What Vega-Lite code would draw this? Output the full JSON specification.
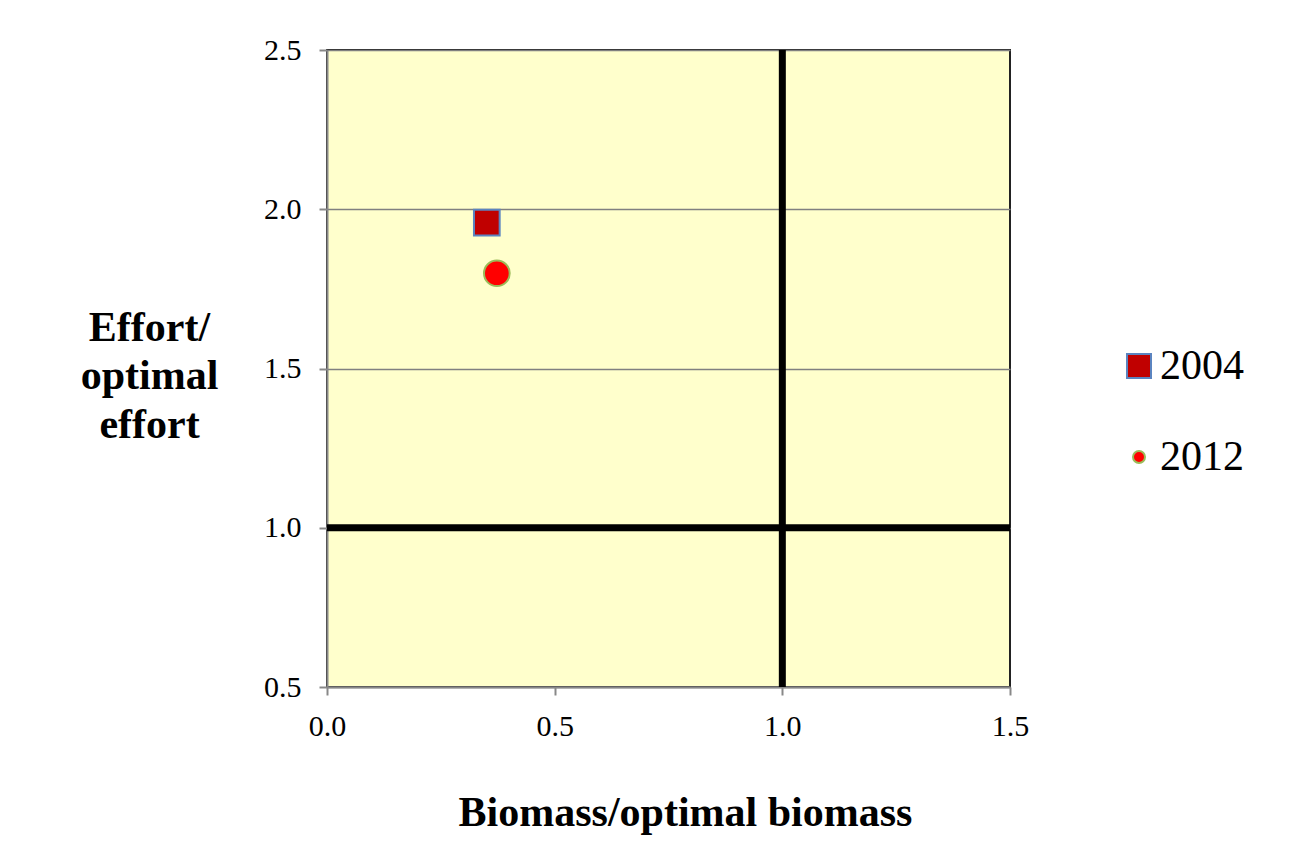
{
  "$schema": "https://vega.github.io/schema/vega-lite/v6.json",
  "width": 683,
  "height": 637,
  "autosize": {"type": "none"},
  "padding": {"left": 327, "top": 50, "right": 300, "bottom": 163},
  "background": "white",
  "config": {
    "font": "Liberation Serif",
    "view": {"fill": "#ffffcc", "stroke": "#222222", "strokeWidth": 2},
    "axis": {
      "domainColor": "#888888",
      "domainWidth": 2,
      "tickColor": "#888888",
      "tickWidth": 2,
      "tickSize": 8,
      "labelFlush": false,
      "labelFontSize": 30,
      "labelColor": "black",
      "labelFont": "Liberation Serif",
      "titleFont": "Liberation Serif",
      "titleColor": "black",
      "titleFontSize": 42,
      "titleFontWeight": "bold",
      "gridColor": "#808080",
      "gridWidth": 1.5
    },
    "legend": {
      "orient": "none",
      "legendX": 791,
      "legendY": 295,
      "title": null,
      "padding": 0,
      "labelFontSize": 42,
      "labelColor": "black",
      "labelFont": "Liberation Serif",
      "labelOffset": 0,
      "rowPadding": 49,
      "symbolStrokeWidth": 2
    }
  },
  "layer": [
    {
      "data": {"values": [{"x": 1}]},
      "mark": {"type": "rule", "color": "black", "strokeWidth": 7},
      "encoding": {"x": {"field": "x", "type": "quantitative"}}
    },
    {
      "data": {"values": [{"y": 1}]},
      "mark": {"type": "rule", "color": "black", "strokeWidth": 7},
      "encoding": {"y": {"field": "y", "type": "quantitative"}}
    },
    {
      "data": {"values": [
        {"Year": "2004", "x": 0.351, "y": 1.958},
        {"Year": "2012", "x": 0.373, "y": 1.799}
      ]},
      "mark": {"type": "point", "filled": true, "opacity": 1, "strokeWidth": 2},
      "encoding": {
        "x": {
          "field": "x",
          "type": "quantitative",
          "scale": {"domain": [0, 1.5], "nice": false, "zero": false},
          "axis": {
            "title": "Biomass/optimal biomass",
            "values": [0, 0.5, 1, 1.5],
            "format": ".1f",
            "grid": false,
            "labelPadding": 16,
            "titleX": 358,
            "titleY": 138,
            "titleAlign": "center",
            "titleBaseline": "alphabetic"
          }
        },
        "y": {
          "field": "y",
          "type": "quantitative",
          "scale": {"domain": [0.5, 2.5], "nice": false, "zero": false},
          "axis": {
            "title": ["Effort/", "optimal", "effort"],
            "values": [0.5, 1, 1.5, 2, 2.5],
            "format": ".1f",
            "grid": true,
            "labelPadding": 18,
            "titleAngle": 0,
            "titleX": -178,
            "titleY": 290,
            "titleAlign": "center",
            "titleBaseline": "alphabetic",
            "titleLineHeight": 48.5
          }
        },
        "shape": {"field": "Year", "type": "ordinal", "scale": {"range": ["square", "circle"]}},
        "fill": {"field": "Year", "type": "ordinal", "scale": {"range": ["#c00000", "#ff0000"]}},
        "stroke": {"field": "Year", "type": "ordinal", "scale": {"range": ["#5b84c0", "#9bbb59"]}},
        "size": {
          "condition": {"test": "true", "value": 660},
          "field": "Year",
          "type": "ordinal",
          "scale": {"type": "ordinal", "range": [576, 144]}
        }
      }
    }
  ]
}
